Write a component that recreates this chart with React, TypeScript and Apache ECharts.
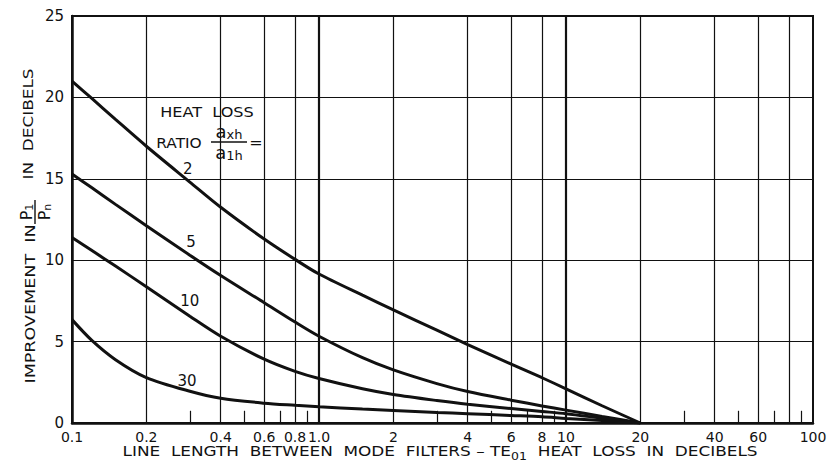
import React, { useEffect, useRef } from "react";
import * as echarts from "echarts";

// Line length between mode filters (TE01 heat loss, dB)
const lineLengthDb = [0.1, 0.12, 0.15, 0.2, 0.3, 0.4, 0.6, 0.8, 1, 1.5, 2, 3, 4, 6, 8, 10, 14, 20];

// Improvement P1/Pn (dB) for each heat loss ratio a_xh / a_1h
const ratio2 = [21.0, 19.95, 18.65, 17.0, 14.8, 13.25, 11.3, 10.05, 9.15, 7.85, 6.95, 5.7, 4.82, 3.62, 2.78, 2.1, 1.06, 0];
const ratio5 = [15.3, 14.46, 13.43, 12.12, 10.31, 9.06, 7.39, 6.2, 5.33, 4.01, 3.26, 2.42, 1.93, 1.4, 1.05, 0.79, 0.4, 0];
const ratio10 = [11.4, 10.61, 9.64, 8.37, 6.56, 5.33, 3.92, 3.17, 2.73, 2.1, 1.75, 1.38, 1.15, 0.89, 0.71, 0.57, 0.29, 0];
const ratio30 = [6.35, 5.09, 3.89, 2.79, 1.95, 1.52, 1.22, 1.09, 1.0, 0.86, 0.77, 0.65, 0.57, 0.46, 0.38, 0.28, 0.15, 0];

const curveNames = ["2", "5", "10", "30"];
const curveValues = [ratio2, ratio5, ratio10, ratio30];

// Where each curve's ratio number is written (data units)
const curveLabelAnchors = [
  [0.294, 15.6],
  [0.303, 11.1],
  [0.3, 7.5],
  [0.292, 2.6],
];

// Axis ticks and grid
const xTickLabels = ["0.1", "0.2", "0.4", "0.6", "0.8", "1.0", "2", "4", "6", "8", "10", "20", "40", "60", "100"];
const xGridValues = [0.2, 0.4, 0.6, 0.8, 1, 2, 4, 6, 8, 10, 20, 40, 60, 80];
const xHeavyGridValues = [1, 10];
const xMinorTicks = [0.3, 0.5, 0.7, 0.9, 3, 5, 7, 9, 30, 50, 70, 90];
const minorTickHeight = 0.75;
const yMin = 0;
const yMax = 25;
const yStep = 5;

const INK = "#111";
const FONT = "DejaVu Sans";

// rich-text styles: main glyphs and lowered subscripts
const richSet = (main: number, sub: number, lineHeight: number) => ({
  m: { font: `${main}px "${FONT}"`, fill: INK, verticalAlign: "middle", lineHeight },
  s: { font: `${sub}px "${FONT}"`, fill: INK, verticalAlign: "bottom", lineHeight: sub },
});

export default function App() {
  const ref = useRef<HTMLDivElement>(null);

  useEffect(() => {
    if (!ref.current) return;
    const chart = echarts.init(ref.current, undefined, { renderer: "svg" });

    const gridLineData = xGridValues.map((v) => ({
      xAxis: v,
      lineStyle: {
        color: INK,
        width: xHeavyGridValues.includes(v) ? 2.2 : 1.2,
        type: "solid",
      },
    }));
    const minorTickData = xMinorTicks.map((v) => [
      { coord: [v, 0] },
      { coord: [v, minorTickHeight] },
    ]);

    const curveSeries = curveNames.map((name, i) => ({
      name,
      type: "line",
      smooth: 0.3,
      symbol: "none",
      z: 5,
      lineStyle: { color: INK, width: 3 },
      data: lineLengthDb.map((x, j) => [x, curveValues[i][j]]),
      markPoint: {
        symbol: "circle",
        symbolSize: 0,
        silent: true,
        label: {
          show: true,
          position: "inside",
          formatter: "{b}",
          color: INK,
          fontSize: 15,
          fontFamily: FONT,
        },
        data: [{ name, coord: curveLabelAnchors[i] }],
      },
    }));

    const frameSeries = {
      name: "frame",
      type: "line",
      data: [],
      silent: true,
      z: 2,
      markLine: {
        silent: true,
        symbol: "none",
        label: { show: false },
        animation: false,
        data: [...gridLineData, ...minorTickData],
        lineStyle: { color: INK, width: 1.2, type: "solid" },
      },
      markPoint: {
        symbol: "circle",
        symbolSize: 0,
        silent: true,
        label: {
          show: true,
          position: "bottom",
          distance: 7,
          formatter: "{b}",
          color: INK,
          fontSize: 14,
          fontFamily: FONT,
        },
        data: xTickLabels.map((t) => ({ name: t, coord: [Number(t), 0] })),
      },
    };

    const plain = (text: string, x: number, y: number, fontSize: number, extra: object = {}) => ({
      type: "text",
      x,
      y,
      ...extra,
      style: { text, fontSize, fontFamily: FONT, fill: INK, align: "center", verticalAlign: "middle" },
    });
    const rich = (text: string, x: number, y: number, main: number, sub: number, lh: number, extra: object = {}) => ({
      type: "text",
      x,
      y,
      ...extra,
      style: {
        text,
        font: `${main}px "${FONT}"`,
        fill: INK,
        align: "center",
        verticalAlign: "middle",
        rich: richSet(main, sub, lh),
      },
    });

    chart.setOption({
      animation: false,
      backgroundColor: "#ffffff",
      grid: {
        left: 72,
        right: 16,
        top: 16,
        bottom: 42,
        show: true,
        borderColor: INK,
        borderWidth: 2,
        backgroundColor: "transparent",
      },
      xAxis: {
        type: "log",
        logBase: 10,
        min: 0.1,
        max: 100,
        axisLine: { show: true, lineStyle: { color: INK, width: 2.5 } },
        axisTick: { show: false },
        axisLabel: { show: false },
        splitLine: { show: false },
        minorSplitLine: { show: false },
      },
      yAxis: {
        type: "value",
        min: yMin,
        max: yMax,
        interval: yStep,
        axisLine: { show: true, lineStyle: { color: INK, width: 2.5 } },
        axisTick: { show: false },
        axisLabel: { color: INK, fontSize: 15, fontFamily: FONT, margin: 8 },
        splitLine: { show: true, lineStyle: { color: INK, width: 1.2 } },
      },
      graphic: [
        // x-axis title
        rich(
          "{m|LINE  LENGTH  BETWEEN  MODE  FILTERS – TE}{s|01}{m|  HEAT  LOSS  IN  DECIBELS}",
          440,
          452,
          13.5,
          10,
          20,
          { scaleX: 1.25 }
        ),
        // y-axis title, read bottom to top
        plain("IMPROVEMENT  IN", 30, 304, 13.5, { rotation: Math.PI / 2, scaleX: 1.3 }),
        {
          type: "group",
          x: 35,
          y: 212,
          rotation: Math.PI / 2,
          children: [
            rich("{m|P}{s|1}", 0, -9, 16, 11, 18),
            {
              type: "line",
              shape: { x1: -12, y1: 0, x2: 12, y2: 0 },
              style: { stroke: INK, lineWidth: 1.4 },
            },
            rich("{m|P}{s|n}", 0, 9, 16, 11, 18),
          ],
        },
        plain("IN  DECIBELS", 29, 124, 13.5, { rotation: Math.PI / 2, scaleX: 1.25 }),
        // heat loss ratio legend
        plain("HEAT  LOSS", 207, 112, 14, { scaleX: 1.15 }),
        plain("RATIO", 179, 143, 14, { scaleX: 1.1 }),
        rich("{m|a}{s|xh}", 229, 131, 18, 13, 20),
        {
          type: "line",
          shape: { x1: 211, y1: 142, x2: 247, y2: 142 },
          style: { stroke: INK, lineWidth: 1.4 },
        },
        rich("{m|a}{s|1h}", 229, 152, 18, 13, 20),
        plain("=", 256, 142, 16),
      ],
      series: [frameSeries, ...curveSeries],
    });

    return () => chart.dispose();
  }, []);

  return (
    <div
      ref={ref}
      style={{ position: "fixed", left: 0, top: 0, width: 829, height: 465, background: "#fff" }}
    />
  );
}
